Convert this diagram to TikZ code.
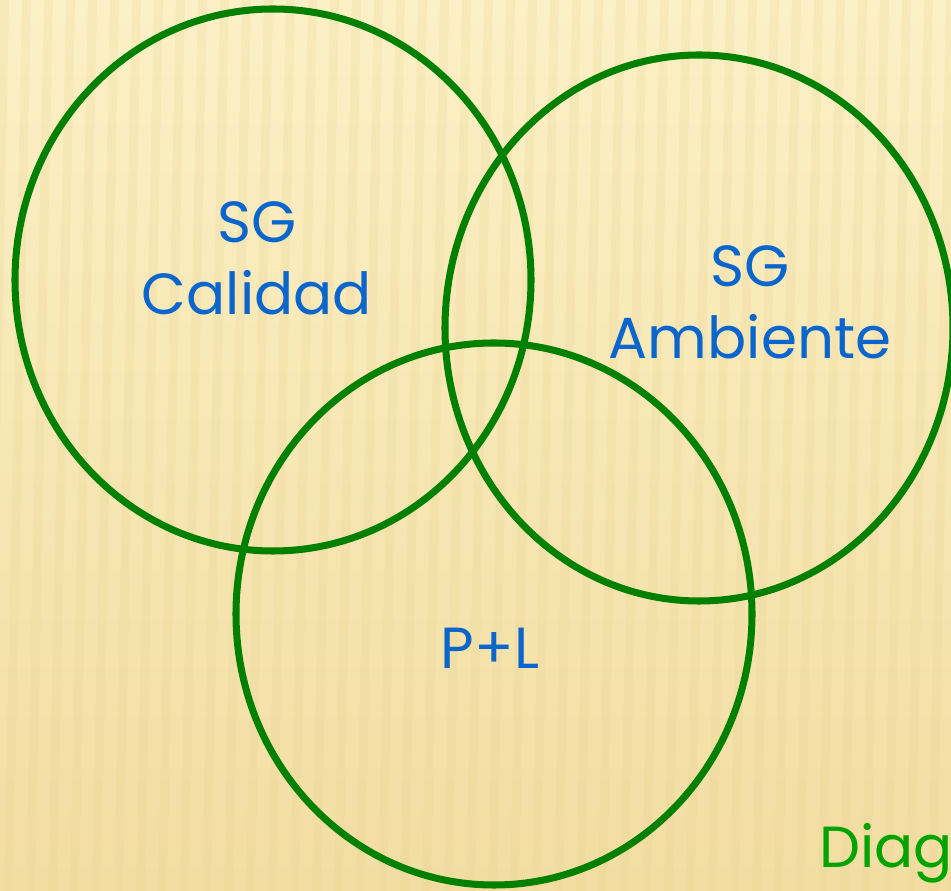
\documentclass[tikz,border=0pt]{standalone}
\usepackage{fontspec}
\setmainfont{Poppins}
\usepackage{tikz}
\usetikzlibrary{positioning}
\definecolor{paperlight}{HTML}{FCF0C6}
\definecolor{paperdark}{HTML}{F2DEA2}
\definecolor{stripetone}{HTML}{E8CE8A}
\definecolor{ringgreen}{HTML}{008000}
\definecolor{labelblue}{HTML}{0A66CC}
\definecolor{titlegreen}{HTML}{00A300}

\begin{document}
\begin{tikzpicture}[x=0.02cm, y=-0.02cm,
  ring/.style={draw=ringgreen, line width=4pt},
  setlabel/.style={text=labelblue, align=center, font=\fontsize{33}{41}\selectfont}]
  \useasboundingbox (0,0) rectangle (951,891);
  \clip (0,0) rectangle (951,891);
  % paper background
  \shade[top color=paperlight, bottom color=paperdark] (0,0) rectangle (951,891);
  \foreach \sx in {0,22,...,990}
    \fill[stripetone, opacity=0.18] (\sx,0) -- (\sx+9,0) -- (\sx-9,891) -- (\sx-18,891) -- cycle;
  % the three sets
  \coordinate (calidad) at (273,280);
  \coordinate (ambiente) at (699,328);
  \coordinate (pl) at (494,614);
  \draw[ring] (calidad) ellipse [x radius=258, y radius=271];
  \draw[ring] (ambiente) ellipse [x radius=254, y radius=273];
  \draw[ring] (pl) ellipse [x radius=258, y radius=271];
  \node[setlabel] (calidadtxt) at (257,258) {SG\\Calidad};
  \node[setlabel] (ambientetxt) at (750,302) {SG\\Ambiente};
  \node[setlabel] (pltxt) at (490,648) {P+L};
  \node[text=titlegreen, anchor=base west, inner sep=0pt, font=\fontsize{33}{40}\selectfont] (title) at (819,868) {Diagrama};
\end{tikzpicture}
\end{document}
